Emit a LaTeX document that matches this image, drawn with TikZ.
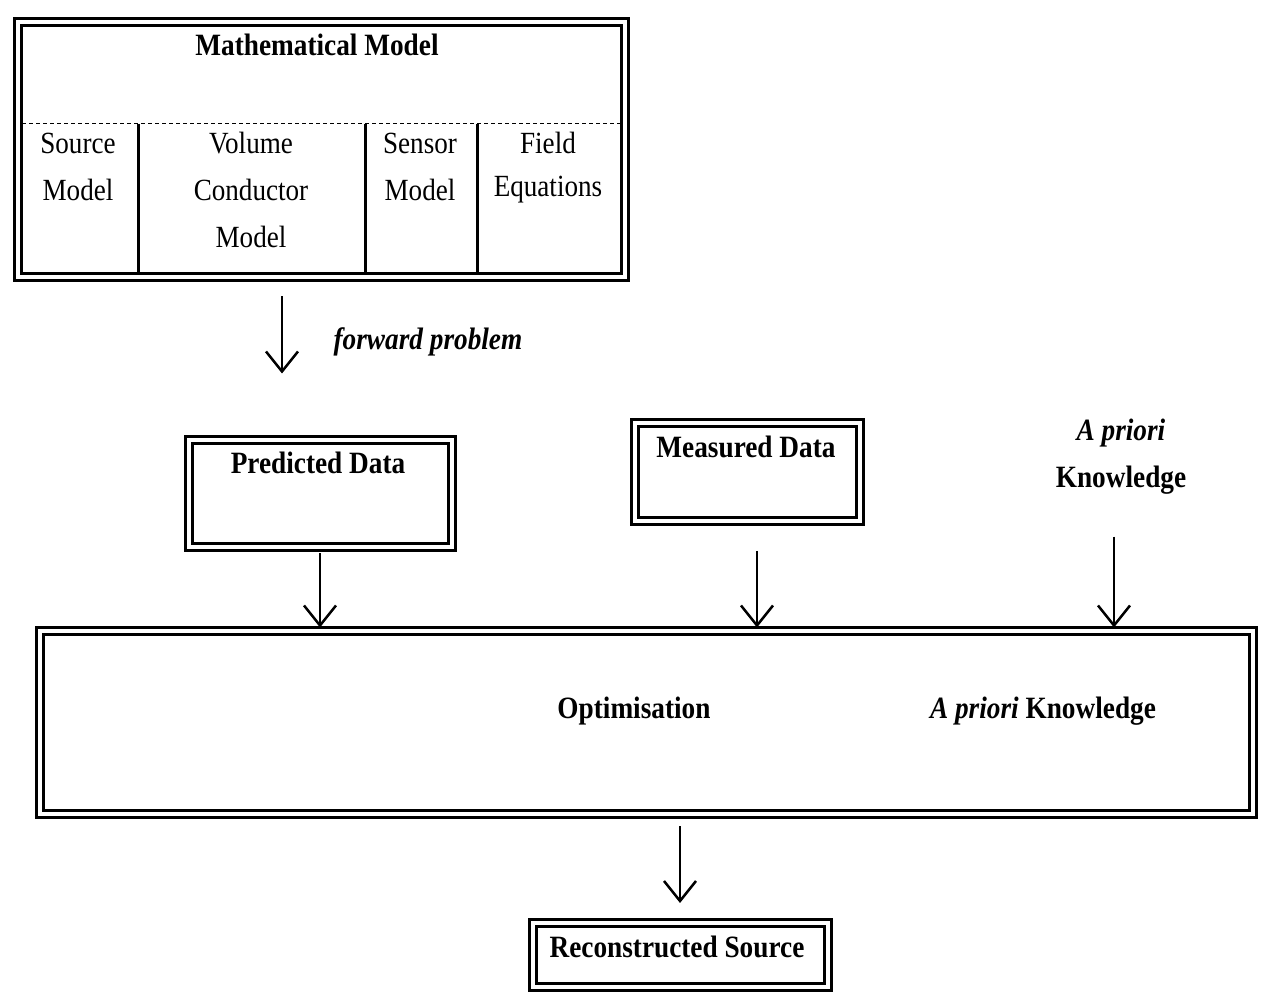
\documentclass[tikz,border=0pt]{standalone}
\usepackage{fontspec}
\setmainfont{Liberation Serif}[FakeStretch=0.88]
\usetikzlibrary{arrows.meta}
\begin{document}
\begin{tikzpicture}[x=0.5pt,y=-0.5pt,
  dblbox/.style={draw, line width=1.5pt, double, double distance=2pt, outer sep=0pt, inner sep=0pt},
  lbl/.style={font=\fontsize{15.5}{18}\selectfont\bfseries, inner sep=0pt},
  plain/.style={font=\fontsize{15.4}{18}\selectfont, inner sep=0pt, align=center},
  arr/.style={line width=1.25pt, -{Straight Barb[length=10pt,width=16pt,line width=1.25pt]}},
  divider/.style={line width=1.5pt},
  dashline/.style={line width=0.5pt, dash pattern=on 2pt off 1.5pt}]
\useasboundingbox (0,0) rectangle (1266,999);
\fill[white] (0,0) rectangle (1266,999);

% Mathematical model
\node[dblbox, minimum width=303.5pt, minimum height=127.5pt] (math) at (321,150) {};
\node[lbl] (mathT) at (317,45) {Mathematical Model};
\draw[dashline] (22,124) -- (621,124);
\draw[divider] (138,124) -- (138,274);
\draw[divider] (365,124) -- (365,274);
\draw[divider] (477,124) -- (477,274);
\node[plain] (src1) at (78,143) {Source};
\node[plain] (src2) at (78,190) {Model};
\node[plain] (vol1) at (251,143) {Volume};
\node[plain] (vol2) at (251,190) {Conductor};
\node[plain] (vol3) at (251,237) {Model};
\node[plain] (sen1) at (420,143) {Sensor};
\node[plain] (sen2) at (420,190) {Model};
\node[plain] (fld1) at (548,143) {Field};
\node[plain] (fld2) at (548,190) {Equations};

% forward problem
\coordinate (fwdx) at (282,0);
\node[lbl, font=\fontsize{15.5}{18}\selectfont\bfseries\itshape] (fwd) at (428,342) {forward problem};

% Data boxes
\node[dblbox, minimum width=131.5pt, minimum height=53.5pt] (pred) at (320,494) {};
\node[lbl] (predT) at (318,463) {Predicted Data};
\node[dblbox, minimum width=112.5pt, minimum height=49pt] (meas) at (747,472) {};
\node[lbl] (measT) at (746,447) {Measured Data};
\node[lbl] (apr1) at (1121,433) {\itshape A priori};
\node[lbl] (apr2) at (1121,480) {Knowledge};

% Optimisation
\node[dblbox, minimum width=606.5pt, minimum height=91.5pt] (opt) at (646,723) {};
\node[lbl] (optT) at (634,711) {Optimisation};
\node[lbl] (optK) at (1043,711) {\itshape A priori\upshape{} Knowledge};

% Reconstructed source
\node[dblbox, minimum width=147.5pt, minimum height=32pt] (rec) at (680,955) {};
\node[lbl] (recT) at (677,947) {Reconstructed Source};

% arrow anchors
\coordinate (measx) at ([xshift=5pt]meas.south);
\coordinate (aprx) at ([xshift=-3.5pt]apr2.south);

% Arrows
\draw[arr, shorten <=9.5pt, shorten >=33.5pt] (math.south -| fwdx) -- (pred.north -| fwdx);
\draw[arr, shorten <=3pt, shorten >=2pt] (pred.south) -- (opt.north -| pred.south);
\draw[arr, shorten <=15pt, shorten >=2pt] (measx) -- (opt.north -| measx);
\draw[arr, shorten <=21pt, shorten >=2pt] (aprx) -- (opt.north -| aprx);
\draw[arr, shorten <=6pt, shorten >=10pt] (opt.south -| rec.north) -- (rec.north);
\end{tikzpicture}
\end{document}
